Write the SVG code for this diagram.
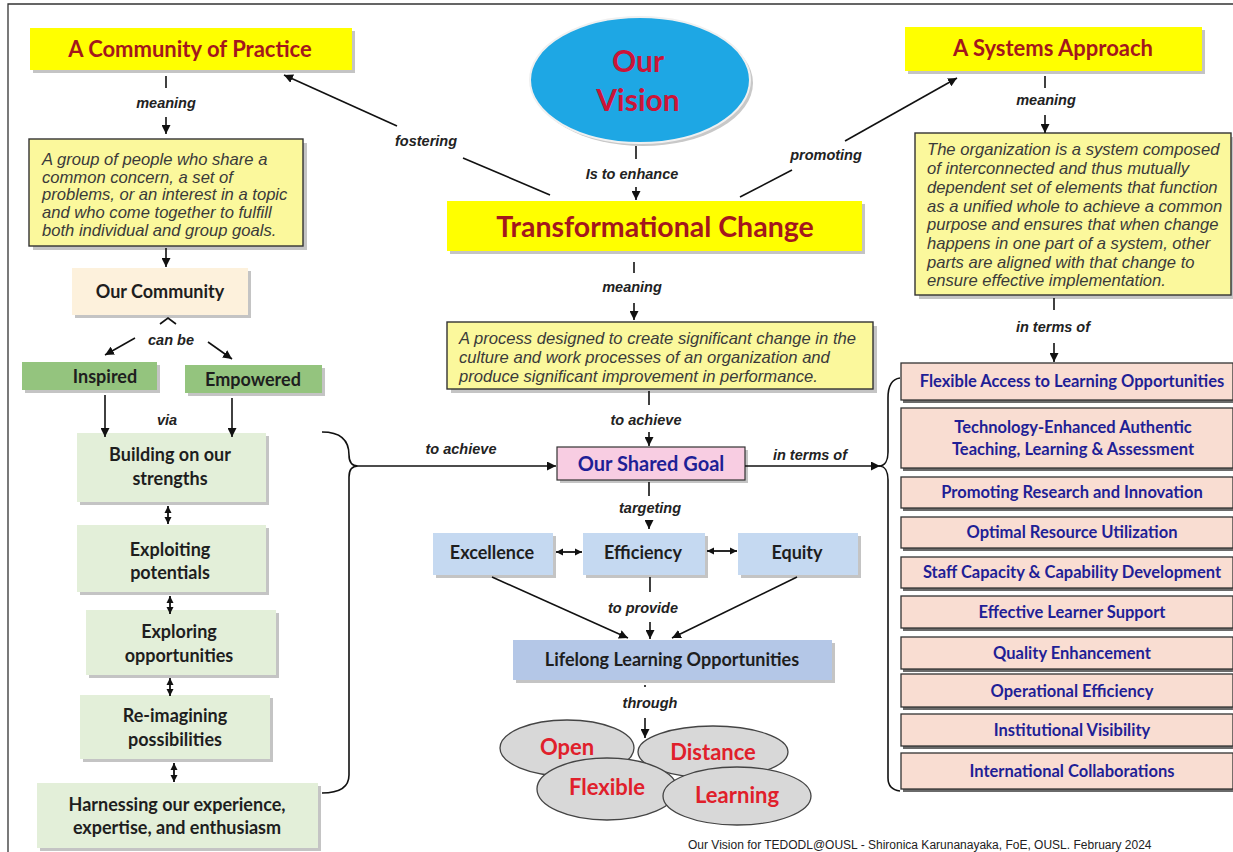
<svg xmlns="http://www.w3.org/2000/svg" width="1233" height="852" viewBox="0 0 1233 852">
<defs>
<marker id="ah" viewBox="0 0 10 10" refX="10" refY="5" markerWidth="9" markerHeight="9" markerUnits="userSpaceOnUse" orient="auto-start-reverse"><path d="M0,0 L10,5 L0,10 z" fill="#111"/></marker>
<marker id="ah2" viewBox="0 0 10 10" refX="10" refY="5" markerWidth="7" markerHeight="8" markerUnits="userSpaceOnUse" orient="auto-start-reverse"><path d="M0,0 L10,5 L0,10 z" fill="#111"/></marker>
<style>
.ln{stroke:#111;stroke-width:1.6;fill:none}
.ar{stroke:#111;stroke-width:1.6;fill:none;marker-end:url(#ah)}
.dar{stroke:#111;stroke-width:1.8;fill:none;marker-end:url(#ah2);marker-start:url(#ah2)}
.sh{fill:#c4c4c4}
.shd{fill:#6a6a6a}
.yel{fill:#ffff00}
.def{fill:#fbf89c;stroke:#333;stroke-width:1.4}
.title{font-family:Lato,"Open Sans",sans-serif;font-weight:bold;fill:#a3171d;text-anchor:middle}
.lbl{font-family:"Liberation Sans",Arial,sans-serif;font-weight:bold;font-style:italic;font-size:14.5px;fill:#222;text-anchor:middle}
.it{font-family:"Liberation Sans",Arial,sans-serif;font-style:italic;fill:#3a3a3a;font-size:16.6px}
.bx{font-family:Lato,"Open Sans",sans-serif;font-weight:bold;font-size:18px;fill:#1e1e1e;text-anchor:middle}
.gr{fill:#e3efd9}
.gg{fill:#94c47e}
.lb{fill:#c5d9f1}
.pc{fill:#f9ddd2;stroke:#333;stroke-width:1.3}
.nv{font-family:Lato,"Open Sans",sans-serif;font-weight:bold;font-size:16.5px;fill:#1f1f96;text-anchor:middle}
.el{fill:#d8d8d8;stroke:#444;stroke-width:1.3}
.rd{font-family:Lato,"Open Sans",sans-serif;font-weight:bold;font-size:22px;fill:#e0202b;text-anchor:middle}
</style>
</defs>
<rect width="1233" height="852" fill="#fff"/>
<path d="M8,852 L8,4 L1233,4" stroke="#333" stroke-width="1.3" fill="none"/>

<g id="vision">
<ellipse cx="643" cy="83" rx="110" ry="63" fill="#c8c8c8"/>
<ellipse cx="640" cy="80" rx="110" ry="63" fill="#1ea7e4" stroke="#f0f0f0" stroke-width="2"/>
<text x="638" y="72" font-family="Lato,'Open Sans',sans-serif" font-weight="bold" font-size="30" fill="#cc1438" text-anchor="middle">Our</text>
<text x="638" y="111" font-family="Lato,'Open Sans',sans-serif" font-weight="bold" font-size="30" fill="#cc1438" text-anchor="middle">Vision</text>
</g>

<g id="cop">
<rect class="sh" x="33" y="31" width="322" height="42"/>
<rect class="yel" x="30" y="28" width="322" height="42"/>
<text class="title" x="190" y="57" font-size="22">A Community of Practice</text>
</g>

<g id="sys">
<rect class="sh" x="908" y="30" width="297" height="44"/>
<rect class="yel" x="905" y="27" width="297" height="44"/>
<text class="title" x="1053" y="56" font-size="22">A Systems Approach</text>
</g>

<g id="tc">
<rect class="sh" x="450" y="204" width="415" height="50"/>
<rect class="yel" x="447" y="201" width="415" height="50"/>
<text class="title" x="655" y="237" font-size="28.5">Transformational Change</text>
</g>

<g id="copdef">
<rect class="sh" x="33" y="143" width="274" height="107"/>
<rect class="def" x="29" y="139" width="274" height="107"/>
<text class="it" x="42" y="165">A group of people who share a</text>
<text class="it" x="42" y="183">common concern, a set of</text>
<text class="it" x="42" y="200">problems, or an interest in a topic</text>
<text class="it" x="42" y="218">and who come together to fulfill</text>
<text class="it" x="42" y="236">both individual and group goals.</text>
</g>

<g id="sysdef">
<rect class="sh" x="919" y="137" width="314" height="162"/>
<rect class="def" x="915" y="133" width="316" height="162"/>
<text class="it" x="927" y="155">The organization is a system composed</text>
<text class="it" x="927" y="174">of interconnected and thus mutually</text>
<text class="it" x="927" y="193">dependent set of elements that function</text>
<text class="it" x="927" y="212">as a unified whole to achieve a common</text>
<text class="it" x="927" y="230">purpose and ensures that when change</text>
<text class="it" x="927" y="249">happens in one part of a system, other</text>
<text class="it" x="927" y="268">parts are aligned with that change to</text>
<text class="it" x="927" y="286">ensure effective implementation.</text>
</g>

<g id="tcdef">
<rect class="sh" x="451" y="326" width="426" height="67"/>
<rect class="def" x="447" y="322" width="426" height="67"/>
<text class="it" x="459" y="344">A process designed to create significant change in the</text>
<text class="it" x="459" y="363">culture and work processes of an organization and</text>
<text class="it" x="459" y="382">produce significant improvement in performance.</text>
</g>

<g id="community">
<rect class="sh" x="75" y="271" width="176" height="47"/>
<rect x="72" y="268" width="176" height="47" fill="#fdf1dc"/>
<text class="bx" x="160" y="298">Our Community</text>
</g>

<g id="inspired">
<rect class="sh" x="25" y="365" width="135" height="28"/>
<rect class="gg" x="22" y="362" width="135" height="28"/>
<text class="bx" x="105" y="383">Inspired</text>
</g>
<g id="empowered">
<rect class="sh" x="188" y="368" width="137" height="28"/>
<rect class="gg" x="185" y="365" width="137" height="28"/>
<text class="bx" x="253" y="386">Empowered</text>
</g>

<g id="building">
<rect class="sh" x="80" y="436" width="189" height="69"/>
<rect class="gr" x="77" y="433" width="189" height="69"/>
<text class="bx" x="170" y="461">Building on our</text>
<text class="bx" x="170" y="485">strengths</text>
</g>
<g id="exploiting">
<rect class="sh" x="80" y="528" width="189" height="67"/>
<rect class="gr" x="77" y="525" width="189" height="67"/>
<text class="bx" x="170" y="556">Exploiting</text>
<text class="bx" x="170" y="579">potentials</text>
</g>
<g id="exploring">
<rect class="sh" x="89" y="613" width="190" height="65"/>
<rect class="gr" x="86" y="610" width="190" height="65"/>
<text class="bx" x="179" y="638">Exploring</text>
<text class="bx" x="179" y="662">opportunities</text>
</g>
<g id="reimagining">
<rect class="sh" x="83" y="698" width="190" height="64"/>
<rect class="gr" x="80" y="695" width="190" height="64"/>
<text class="bx" x="175" y="722">Re-imagining</text>
<text class="bx" x="175" y="746">possibilities</text>
</g>
<g id="harnessing">
<rect class="sh" x="40" y="786" width="281" height="65"/>
<rect class="gr" x="37" y="783" width="281" height="65"/>
<text class="bx" x="177" y="811">Harnessing our experience,</text>
<text class="bx" x="177" y="834">expertise, and enthusiasm</text>
</g>

<g id="goal">
<rect class="sh" x="560" y="450" width="188" height="33"/>
<rect x="557" y="447" width="188" height="33" fill="#f8cde2" stroke="#333" stroke-width="1.2"/>
<text x="651" y="471" font-family="Lato,'Open Sans',sans-serif" font-weight="bold" font-size="20" fill="#1f1f96" text-anchor="middle">Our Shared Goal</text>
</g>

<g id="excellence">
<rect class="sh" x="436" y="536" width="120" height="42"/>
<rect class="lb" x="433" y="533" width="120" height="42"/>
<text class="bx" x="492" y="559">Excellence</text>
</g>
<g id="efficiency">
<rect class="sh" x="586" y="536" width="122" height="42"/>
<rect class="lb" x="583" y="533" width="122" height="42"/>
<text class="bx" x="643" y="559">Efficiency</text>
</g>
<g id="equity">
<rect class="sh" x="741" y="536" width="120" height="42"/>
<rect class="lb" x="738" y="533" width="120" height="42"/>
<text class="bx" x="797" y="559">Equity</text>
</g>

<g id="lifelong">
<rect class="sh" x="516" y="643" width="319" height="40"/>
<rect x="513" y="640" width="319" height="40" fill="#b4c7e7"/>
<text class="bx" x="672" y="666" font-size="17">Lifelong Learning Opportunities</text>
</g>

<g id="modes">
<ellipse class="el" cx="567" cy="748" rx="67" ry="28"/>
<text class="rd" x="567" y="755">Open</text>
<ellipse class="el" cx="713" cy="752" rx="75" ry="26"/>
<text class="rd" x="713" y="760">Distance</text>
<ellipse class="el" cx="607" cy="789" rx="70" ry="31"/>
<text class="rd" x="607" y="795">Flexible</text>
<ellipse class="el" cx="737" cy="796" rx="74" ry="29"/>
<text class="rd" x="737" y="803">Learning</text>
</g>

<g id="list">
<rect class="shd" x="903" y="366" width="330" height="37"/>
<rect class="pc" x="901" y="363" width="332" height="37"/>
<text class="nv" x="1072" y="387">Flexible Access to Learning Opportunities</text>
<rect class="shd" x="903" y="411" width="330" height="60"/>
<rect class="pc" x="901" y="408" width="332" height="60"/>
<text class="nv" x="1073" y="433">Technology-Enhanced Authentic</text>
<text class="nv" x="1073" y="455">Teaching, Learning &amp; Assessment</text>
<rect class="shd" x="903" y="480" width="330" height="31"/>
<rect class="pc" x="901" y="477" width="332" height="31"/>
<text class="nv" x="1072" y="498">Promoting Research and Innovation</text>
<rect class="shd" x="903" y="520" width="330" height="31"/>
<rect class="pc" x="901" y="517" width="332" height="31"/>
<text class="nv" x="1072" y="538">Optimal Resource Utilization</text>
<rect class="shd" x="903" y="560" width="330" height="31"/>
<rect class="pc" x="901" y="557" width="332" height="31"/>
<text class="nv" x="1072" y="578">Staff Capacity &amp; Capability Development</text>
<rect class="shd" x="903" y="599" width="330" height="32"/>
<rect class="pc" x="901" y="596" width="332" height="32"/>
<text class="nv" x="1072" y="618">Effective Learner Support</text>
<rect class="shd" x="903" y="640" width="330" height="32"/>
<rect class="pc" x="901" y="637" width="332" height="32"/>
<text class="nv" x="1072" y="659">Quality Enhancement</text>
<rect class="shd" x="903" y="677" width="330" height="33"/>
<rect class="pc" x="901" y="674" width="332" height="33"/>
<text class="nv" x="1072" y="697">Operational Efficiency</text>
<rect class="shd" x="903" y="717" width="330" height="32"/>
<rect class="pc" x="901" y="714" width="332" height="32"/>
<text class="nv" x="1072" y="736">Institutional Visibility</text>
<rect class="shd" x="903" y="756" width="330" height="36"/>
<rect class="pc" x="901" y="753" width="332" height="36"/>
<text class="nv" x="1072" y="777">International Collaborations</text>
</g>

<g id="connectors">
<line class="ln" x1="166" y1="76" x2="166" y2="88"/>
<line class="ar" x1="166" y1="117" x2="166" y2="134"/>
<line class="ar" x1="166" y1="248" x2="166" y2="267"/>
<polyline class="ln" points="160,324 168,318 176,324"/>
<line class="ar" x1="135" y1="338" x2="105" y2="355"/>
<line class="ar" x1="208" y1="342" x2="232" y2="359"/>
<line class="ar" x1="105" y1="395" x2="105" y2="437"/>
<line class="ar" x1="232" y1="398" x2="232" y2="437"/>
<line class="dar" x1="168" y1="506" x2="168" y2="524"/>
<line class="dar" x1="170" y1="596" x2="170" y2="614"/>
<line class="dar" x1="170" y1="678" x2="170" y2="696"/>
<line class="dar" x1="174" y1="763" x2="174" y2="782"/>
<path class="ln" d="M322,432 C340,432 349,440 349,455 C349,462 352,466 358,466 C352,466 349,470 349,477 L349,775 C349,787 340,793 322,793"/>
<line class="ar" x1="358" y1="466" x2="556" y2="466"/>
<line class="ln" x1="636" y1="146" x2="636" y2="159"/>
<line class="ar" x1="636" y1="187" x2="636" y2="200"/>
<line class="ln" x1="550" y1="195" x2="463" y2="158"/>
<line class="ar" x1="397" y1="126" x2="284" y2="75"/>
<line class="ln" x1="740" y1="197" x2="792" y2="170"/>
<line class="ar" x1="845" y1="141" x2="957" y2="78"/>
<line class="ln" x1="1045" y1="76" x2="1045" y2="88"/>
<line class="ar" x1="1045" y1="115" x2="1045" y2="133"/>
<line class="ln" x1="1054" y1="298" x2="1054" y2="310"/>
<line class="ar" x1="1054" y1="343" x2="1054" y2="362"/>
<line class="ln" x1="634" y1="262" x2="634" y2="273"/>
<line class="ar" x1="634" y1="303" x2="634" y2="320"/>
<line class="ln" x1="649" y1="391" x2="649" y2="405"/>
<line class="ar" x1="649" y1="432" x2="649" y2="446"/>
<line class="ln" x1="649" y1="482" x2="649" y2="496"/>
<line class="ar" x1="649" y1="521" x2="649" y2="529"/>
<line class="ar" x1="745" y1="466" x2="880" y2="466"/>
<path class="ln" d="M900,378 C892,379 888,386 888,398 L888,452 C888,460 885,466 879,466 C885,466 888,472 888,480 L888,778 C888,786 892,790 900,791"/>
<line class="dar" x1="556" y1="552" x2="582" y2="552"/>
<line class="dar" x1="707" y1="551" x2="737" y2="551"/>
<line class="ar" x1="492" y1="577" x2="628" y2="638"/>
<line class="ln" x1="650" y1="577" x2="650" y2="592"/>
<line class="ar" x1="650" y1="622" x2="650" y2="639"/>
<line class="ar" x1="797" y1="577" x2="672" y2="638"/>
<line class="ln" x1="645" y1="685" x2="645" y2="687"/>
<line class="ar" x1="645" y1="718" x2="645" y2="738"/>
</g>

<g id="labels">
<text class="lbl" x="166" y="108">meaning</text>
<text class="lbl" x="426" y="146">fostering</text>
<text class="lbl" x="632" y="179">Is to enhance</text>
<text class="lbl" x="826" y="160">promoting</text>
<text class="lbl" x="1046" y="105">meaning</text>
<text class="lbl" x="1053" y="332">in terms of</text>
<text class="lbl" x="632" y="292">meaning</text>
<text class="lbl" x="646" y="425">to achieve</text>
<text class="lbl" x="461" y="454">to achieve</text>
<text class="lbl" x="810" y="460">in terms of</text>
<text class="lbl" x="650" y="513">targeting</text>
<text class="lbl" x="643" y="613">to provide</text>
<text class="lbl" x="650" y="708">through</text>
<text class="lbl" x="171" y="345">can be</text>
<text class="lbl" x="167" y="425">via</text>
</g>

<text x="688" y="849" font-family="'Liberation Sans',Arial,sans-serif" font-size="12" fill="#222">Our Vision for TEDODL@OUSL - Shironica Karunanayaka, FoE, OUSL. February 2024</text>
</svg>
